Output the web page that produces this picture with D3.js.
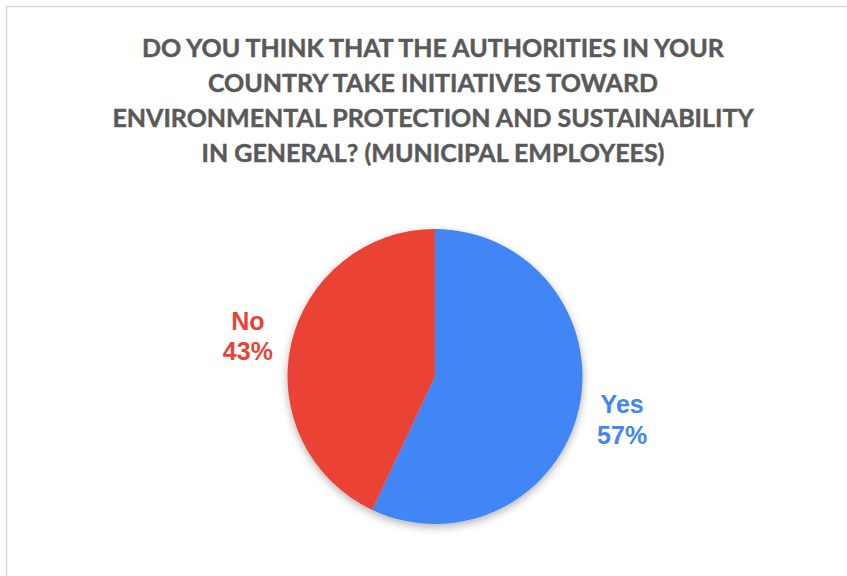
<!DOCTYPE html>
<html>
<head>
<meta charset="utf-8">
<script src="https://cdn.jsdelivr.net/npm/d3@7"></script>
<style>
  html, body { margin: 0; padding: 0; background: #fff; }
  svg { display: block; }
</style>
</head>
<body>
<svg id="chart" width="847" height="576"></svg>
<script>
// Survey answers and their shares (percent)
const categories = ["Yes", "No"];
const values = [57, 43];
const colors = ["#4285F4", "#EA4335"];
const titleLines = [
  "DO YOU THINK THAT THE AUTHORITIES IN YOUR",
  "COUNTRY TAKE INITIATIVES TOWARD",
  "ENVIRONMENTAL PROTECTION AND SUSTAINABILITY",
  "IN GENERAL? (MUNICIPAL EMPLOYEES)"
];

const svg = d3.select("#chart");
const W = 847, H = 576;

// Chart frame
svg.append("rect")
  .attr("x", 6.5).attr("y", 6.5)
  .attr("width", W + 10).attr("height", H + 10)
  .attr("fill", "#fff")
  .attr("stroke", "#d9d9d9").attr("stroke-width", 1.5);

// Soft shadow under the pie
const defs = svg.append("defs");
const f = defs.append("filter").attr("id", "shadow")
  .attr("x", "-20%").attr("y", "-20%").attr("width", "140%").attr("height", "140%");
f.append("feDropShadow")
  .attr("dx", 0).attr("dy", 3).attr("stdDeviation", 4)
  .attr("flood-color", "#000").attr("flood-opacity", 0.3);

// Title
const title = svg.append("text")
  .attr("text-anchor", "middle")
  .attr("font-family", "Lato, 'Open Sans', sans-serif")
  .attr("font-weight", "bold")
  .attr("font-size", 25)
  .attr("fill", "#595959")
  .attr("stroke", "#595959")
  .attr("stroke-width", 0.45);
titleLines.forEach((t, i) => {
  title.append("tspan")
    .attr("x", 433)
    .attr("y", 56.5 + i * 35.3)
    .text(t);
});

// Pie
const cx = 435, cy = 376.5, r = 147.5;
const pie = d3.pie().sort(null).value(d => d.value);
const arc = d3.arc().innerRadius(0).outerRadius(r);
const data = categories.map((c, i) => ({ name: c, value: values[i], color: colors[i] }));
const arcs = pie(data);

const g = svg.append("g").attr("transform", `translate(${cx},${cy})`);
g.append("g").attr("filter", "url(#shadow)")
  .selectAll("path")
  .data(arcs)
  .enter().append("path")
  .attr("d", arc)
  .attr("fill", d => d.data.color);

// Outside labels, placed along each slice's mid-angle
const labelArc = d3.arc().innerRadius(r * 1.3).outerRadius(r * 1.3);
const labels = g.selectAll("text.lbl")
  .data(arcs)
  .enter().append("text")
  .attr("class", "lbl")
  .attr("text-anchor", "middle")
  .attr("font-family", "'Liberation Sans', Arial, sans-serif")
  .attr("font-weight", "bold")
  .attr("font-size", 25)
  .attr("fill", d => d.data.color)
  .attr("transform", d => {
    const [x, y] = labelArc.centroid(d);
    return `translate(${x},${y})`;
  });
labels.append("tspan").attr("x", 0).attr("dy", "-0.2em").text(d => d.data.name);
labels.append("tspan").attr("x", 0).attr("dy", "1.22em").text(d => d.data.value + "%");
</script>
</body>
</html>
